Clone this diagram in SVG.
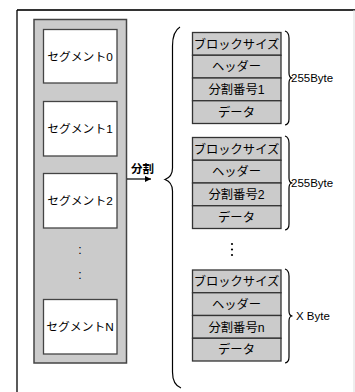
<svg xmlns="http://www.w3.org/2000/svg" width="355" height="392" viewBox="0 0 355 392">
<defs>
<style>
.seg{fill:#fff;stroke:#444;stroke-width:1.3}
.cell{fill:#cbcbcb;stroke:#333;stroke-width:1.3}
.t{font-family:"Liberation Sans","Noto Sans CJK JP",sans-serif;fill:#000;text-anchor:middle}
.st{font-size:11.8px}
.ct{font-size:12.3px}
.br{fill:none;stroke:#000;stroke-width:1.2}
.lbl{font-family:"Liberation Sans","Noto Sans CJK JP",sans-serif;font-size:11.5px;fill:#000}
</style>
<marker id="ah" markerWidth="8" markerHeight="8" refX="6" refY="3" orient="auto" markerUnits="userSpaceOnUse">
<path d="M0,0 L6,3 L0,6 Z" fill="#000"/>
</marker>
</defs>
<rect width="355" height="392" fill="#fff"/>
<g id="frame">
<line x1="17" y1="10" x2="355" y2="10" stroke="#333" stroke-width="1.8"/>
<line x1="17" y1="10" x2="17" y2="392" stroke="#000" stroke-width="1.3"/>
<line x1="354" y1="10" x2="354" y2="392" stroke="#ddd" stroke-width="1"/>
</g>
<g id="segments-column">
<rect x="34" y="19.5" width="92.5" height="343.5" fill="#cbcbcb" stroke="#444" stroke-width="1.5"/>
</g>
<g id="seg0"><rect class="seg" x="43.5" y="29.5" width="73.5" height="53.5"/><text class="t st" x="80" y="60.5">セグメント0</text></g>
<g id="seg1"><rect class="seg" x="43.5" y="101.5" width="73.5" height="54.5"/><text class="t st" x="80" y="133">セグメント1</text></g>
<g id="seg2"><rect class="seg" x="43.5" y="173.5" width="73.5" height="54.5"/><text class="t st" x="80" y="205">セグメント2</text></g>
<g id="seg-dots"><text class="t ct" x="80" y="254">:</text><text class="t ct" x="80" y="279">:</text></g>
<g id="segN"><rect class="seg" x="43.5" y="299.5" width="73.5" height="54.5"/><text class="t st" x="80" y="331">セグメントN</text></g>
<g id="connectors">
<line x1="127" y1="179" x2="151" y2="179" stroke="#000" stroke-width="1.2" marker-end="url(#ah)"/>
<text class="lbl" x="131" y="173" font-weight="bold" font-size="11">分割</text>
<path class="br" d="M180,27 C175,30 172.5,36 172.5,46 L172.5,168 C172.5,175 169,178 165,179.5 C169,181 172.5,184 172.5,191 L172.5,372 C172.5,381 176,386 181,388"/>
</g>
<g id="block1">
<rect class="cell" x="192.5" y="32.5" width="88.5" height="22.75"/>
<rect class="cell" x="192.5" y="55.25" width="88.5" height="22.75"/>
<rect class="cell" x="192.5" y="78" width="88.5" height="22.75"/>
<rect class="cell" x="192.5" y="100.75" width="88.5" height="22.75"/>
<text class="t ct" x="236.5" y="48.5">ブロックサイズ</text>
<text class="t ct" x="236.5" y="71">ヘッダー</text>
<text class="t ct" x="236.5" y="94">分割番号1</text>
<text class="t ct" x="236.5" y="116.5">データ</text>
<path class="br" d="M285,31 C288,32 289,34 289,38 L289,73 C289,76 290.5,78 292.5,78 C290.5,78 289,80 289,83 L289,119 C289,123 288,124.5 285,125"/>
<text class="lbl" x="291" y="82">255Byte</text>
</g>
<g id="block2">
<rect class="cell" x="192.5" y="137.5" width="88.5" height="22.75"/>
<rect class="cell" x="192.5" y="160.25" width="88.5" height="22.75"/>
<rect class="cell" x="192.5" y="183" width="88.5" height="22.75"/>
<rect class="cell" x="192.5" y="205.75" width="88.5" height="22.75"/>
<text class="t ct" x="236.5" y="153.5">ブロックサイズ</text>
<text class="t ct" x="236.5" y="176">ヘッダー</text>
<text class="t ct" x="236.5" y="199">分割番号2</text>
<text class="t ct" x="236.5" y="221.5">データ</text>
<path class="br" d="M285,136 C288,137 289,139 289,143 L289,178 C289,181 290.5,183 292.5,183 C290.5,183 289,185 289,188 L289,224 C289,228 288,229.5 285,230"/>
<text class="lbl" x="291" y="187">255Byte</text>
</g>
<g id="block-dots">
<circle cx="232" cy="244" r="1.1"/>
<circle cx="232" cy="249.5" r="1.1"/>
<circle cx="232" cy="255" r="1.1"/>
</g>
<g id="blockN">
<rect class="cell" x="192.5" y="270" width="88.5" height="22.75"/>
<rect class="cell" x="192.5" y="292.75" width="88.5" height="22.75"/>
<rect class="cell" x="192.5" y="315.5" width="88.5" height="22.75"/>
<rect class="cell" x="192.5" y="338.25" width="88.5" height="22.75"/>
<text class="t ct" x="236.5" y="286">ブロックサイズ</text>
<text class="t ct" x="236.5" y="308.5">ヘッダー</text>
<text class="t ct" x="236.5" y="331.5">分割番号n</text>
<text class="t ct" x="236.5" y="354">データ</text>
<path class="br" d="M285,269 C288,270 289,272 289,276 L289,311 C289,314 290.5,316 292.5,316 C290.5,316 289,318 289,321 L289,357 C289,361 288,362.5 285,363"/>
<text class="lbl" x="296" y="320">X Byte</text>
</g>
</svg>
